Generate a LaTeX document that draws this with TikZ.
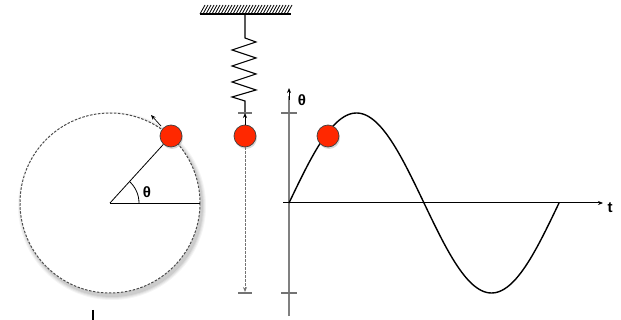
\documentclass[tikz,border=0pt]{standalone}
\usepackage{fontspec}
\setmainfont{Liberation Sans}
\usetikzlibrary{arrows.meta,shadows}
\definecolor{ballred}{RGB}{255,40,0}
\begin{document}
\begin{tikzpicture}[x=1pt,y=-1pt,
  ball/.style={circle,draw=black!75,line width=0.7pt,fill=ballred,minimum size=22pt,inner sep=0pt,
    drop shadow={shadow xshift=1pt,shadow yshift=-2pt,opacity=.3}},
  lbl/.style={font=\fontsize{15}{17}\selectfont\bfseries,inner sep=0pt},
  axisline/.style={draw=black!50,line width=1.6pt},
  tickline/.style={draw=black!55,line width=1.2pt},
  thin/.style={draw=black,line width=0.8pt},
  guide/.style={draw=black!55,line width=1pt,dash pattern=on 2.5pt off 1.5pt},
  tip/.style={-{Stealth[length=5pt,width=4pt]}}
]
\useasboundingbox (0,0) rectangle (621,320);
% ---------- circle ----------
\coordinate (O) at (110,203);
\foreach \r/\o in {94/.04,93/.05,92/.06,91/.07}{\fill[black,opacity=\o] (112,206) circle (\r);}
\fill[white] (O) circle (90);
\draw[black!70,line width=1pt,dash pattern=on 2.5pt off 1.5pt] (O) circle (90);
\coordinate (R) at (200,203);
\node[ball] (b1) at (171,136) {};
\draw[thin] (O) -- (R);
\draw[thin] (O) -- (b1);
\draw[thin] (139,203) arc[start angle=0,end angle=-47,radius=29];
\node[lbl] (th1) at (147,192) {θ};
\coordinate (a1s) at (161,126);
\coordinate (a1e) at (151,115);
\draw[thin,line width=0.7pt,tip] (a1s) -- (a1e);
\coordinate (m1) at (93,310);
\coordinate (m2) at (93,320);
\draw[black,line width=1.8pt] (m1) -- (m2);
% ---------- spring ----------
\foreach \x in {200,203,...,287}{\draw[black,line width=0.8pt] (\x,14) -- (\x+5,5);}
\coordinate (cl) at (200,14);
\coordinate (cr) at (291,14);
\draw[black,line width=1.4pt] (cl) -- (cr);
\coordinate (s0) at (245,14);
\coordinate (s1) at (245,38);
\coordinate (s2) at (245,101);
\coordinate (s3) at (245,113);
\draw[thin,line width=1.1pt,line join=miter] (s0) -- (s1) -- (256,42) -- (232,50) -- (256,58) -- (232,66) -- (256,74) -- (232,82) -- (256,90) -- (232,97) -- (s2) -- (s3);
\coordinate (t1l) at (238,113);
\coordinate (t1r) at (252,113);
\draw[tickline] (t1l) -- (t1r);
\node[ball] (b2) at (245,136) {};
\draw[thin,line width=0.8pt,tip] (b2.north) -- (s3);
\coordinate (d1) at (245,292);
\draw[guide,tip] (b2.south) -- (d1);
\coordinate (t2l) at (238,293);
\coordinate (t2r) at (252,293);
\draw[tickline] (t2l) -- (t2r);
% ---------- graph ----------
\coordinate (ya) at (289,316);
\coordinate (yb) at (289,88);
\draw[axisline] (ya) -- (289,96);
\draw[black,line width=1pt,tip] (289,100) -- (yb);
\coordinate (xa) at (283,203);
\coordinate (xb) at (603,203);
\draw[black,line width=1pt,tip] (xa) -- (xb);
\draw[tickline] (281,113) -- (297,113);
\draw[tickline] (281,293) -- (297,293);
\draw[black,line width=1.4pt] plot[domain=0:270,samples=120] ({289+\x},{203-90*sin(\x*4/3)});
\node[ball] (b3) at (328,136) {};
\node[lbl] (th2) at (302,100) {θ};
\node[lbl] (tt) at (610,208) {t};
\end{tikzpicture}
\end{document}
